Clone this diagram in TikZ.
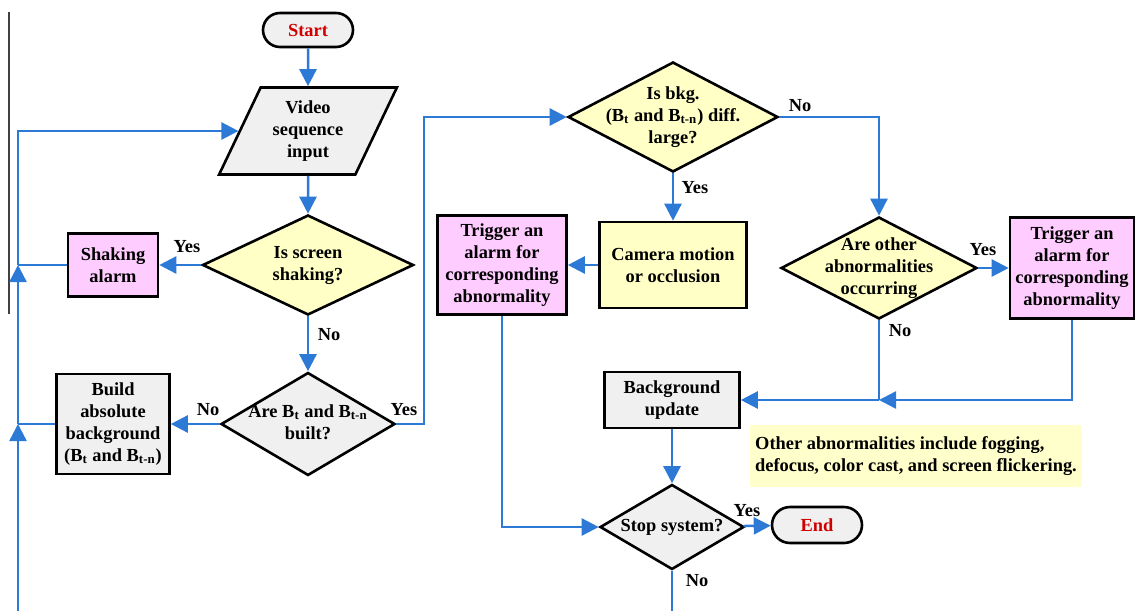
\documentclass[tikz,border=0pt]{standalone}
\usepackage{fontspec}
\setmainfont{Liberation Serif}
\usepackage{xcolor}
\usetikzlibrary{shapes.geometric,shapes.misc,arrows.meta}
\definecolor{flowblue}{HTML}{2C7AD6}
\definecolor{askyellow}{HTML}{FFFFC6}
\definecolor{alarmpink}{HTML}{FFCCFF}
\definecolor{procgray}{HTML}{F0F0F0}
\definecolor{termred}{HTML}{D00000}
\colorlet{notecolor}{askyellow!90!white}
\newcommand{\dlines}[1]{% text of a decision, no width
\makebox[0pt]{\begin{tabular}{@{}c@{}}#1\end{tabular}}}
\newcommand{\Bt}{B\textsubscript{t}}
\newcommand{\Btn}{B\textsubscript{t-n}}
\tikzstyle{base} = [
    font=\fontsize{9.2}{11}\selectfont\bfseries,
    align=center,
    inner sep=0pt
    ]
\tikzstyle{terminal} = [
    base, rounded rectangle, draw, line width=1.3pt,
    fill=procgray, text=termred,
    minimum width=45pt, minimum height=17pt
    ]
\tikzstyle{io} = [
    base, trapezium, trapezium left angle=63, trapezium right angle=117,
    trapezium stretches=true, draw, line width=1.3pt, fill=procgray,
    minimum width=89pt, minimum height=43.5pt
    ]
\tikzstyle{decision} = [base, diamond, aspect=2, draw, line width=1.3pt]
\tikzstyle{process} = [base, rectangle, draw, line width=1.3pt]
\tikzstyle{flow} = [flowblue, line width=1.25pt, -{Triangle[length=8.5pt,width=8.5pt]}]
\tikzstyle{wire} = [flowblue, line width=1.25pt]
\tikzstyle{answer} = [base]

\begin{document}
\begin{tikzpicture}[x=0.5pt,y=-0.5pt]
\useasboundingbox (0,0) rectangle (1135,611);
\draw[black!75, line width=0.6pt] (9,12) -- (9,314);

% left column
\node[terminal] (start) at (308,30) {Start};
\node[io] (video) at (308,131) {Video\\sequence\\input};
\node[decision, fill=askyellow, minimum width=105.5pt, minimum height=50pt] (shake) at (308,265)
    {\dlines{Is screen\\shaking?}};
\node[process, fill=alarmpink, minimum width=45pt, minimum height=31.5pt] (shakealarm) at (113,265)
    {Shaking\\alarm};
\node[decision, fill=procgray, minimum width=87pt, minimum height=51.5pt] (built) at (308,424)
    {\dlines{Are \Bt{} and \Btn\\built?}};
\node[process, fill=procgray, minimum width=56.5pt, minimum height=50pt] (buildbg) at (113,424)
    {Build\\absolute\\background\\(\Bt{} and \Btn)};

% middle and right
\node[decision, fill=askyellow, minimum width=105pt, minimum height=55pt] (bkgdiff) at (673,117)
    {\dlines{Is bkg.\\(\Bt{} and \Btn) diff.\\large?}};
\node[process, fill=askyellow, minimum width=73.5pt, minimum height=43pt] (camera) at (673,265)
    {Camera motion\\or occlusion};
\node[process, fill=alarmpink, minimum width=64.5pt, minimum height=49.5pt] (trigL) at (502,265)
    {Trigger an\\alarm for\\corresponding\\abnormality};
\node[decision, fill=askyellow, minimum width=98pt, minimum height=51pt] (other) at (879,268)
    {\dlines{Are other\\abnormalities\\occurring}};
\node[process, fill=alarmpink, minimum width=62pt, minimum height=50.5pt] (trigR) at (1072,268)
    {Trigger an\\alarm for\\corresponding\\abnormality};
\node[process, fill=procgray, minimum width=67.5pt, minimum height=28pt] (bgupdate) at (672,400)
    {Background\\update};
\node[base, fill=notecolor, minimum width=166pt, minimum height=31pt, align=left] (note) at (916,456)
    {Other abnormalities include fogging,\\defocus, color cast, and screen flickering.};
\node[decision, fill=procgray, minimum width=72pt, minimum height=42.5pt] (stop) at (672,527)
    {\dlines{Stop system?}};
\node[terminal, minimum height=18pt] (end) at (817,525) {End};

% answers
\node[answer] (yes1) at (187,247) {Yes};
\node[answer] (no1) at (329,335) {No};
\node[answer] (no2) at (208,410) {No};
\node[answer] (yes2) at (404,410) {Yes};
\node[answer] (no3) at (800,106) {No};
\node[answer] (yes3) at (695,188) {Yes};
\node[answer] (yes4) at (983,250) {Yes};
\node[answer] (no4) at (900,331) {No};
\node[answer] (yes5) at (747,511) {Yes};
\node[answer] (no5) at (697,581) {No};

\coordinate (loopbot) at (18,611);
\coordinate (j2) at (18,424);
\coordinate (j1) at (18,265);
\coordinate (yesturn) at (424,117);
\coordinate (merge) at (879,400);
\coordinate (stopout) at (672,611);

\draw[flow] (start) -- (video);
\draw[flow] (video) -- (shake);
\draw[flow] (shake) -- (shakealarm);
\draw[flow] (shake) -- (built);
\draw[flow] (built) -- (buildbg);
\draw[flow] (built.east) -| (yesturn) -- (bkgdiff.west);
\draw[wire] (shakealarm.west) -- (j1);
\draw[wire] (buildbg.west) -- (j2);
\draw[flow] (loopbot) -- (j2);
\draw[flow] (j2) -- (j1);
\draw[flow] (j1) |- (video.west);
\draw[flow] (bkgdiff.east) -| (other.north);
\draw[flow] (bkgdiff) -- (camera);
\draw[flow] (camera) -- (trigL);
\draw[flow] (other) -- (trigR);
\draw[wire] (other.south) -- (merge);
\draw[flow] (trigR.south) |- (merge);
\draw[flow] (merge) -- (bgupdate.east);
\draw[flow] (bgupdate) -- (stop);
\draw[flow] (trigL.south) |- (stop.west);
\draw[flow] (stop) -- (end);
\draw[wire] (stop.south) -- (stopout);
\end{tikzpicture}
\end{document}
